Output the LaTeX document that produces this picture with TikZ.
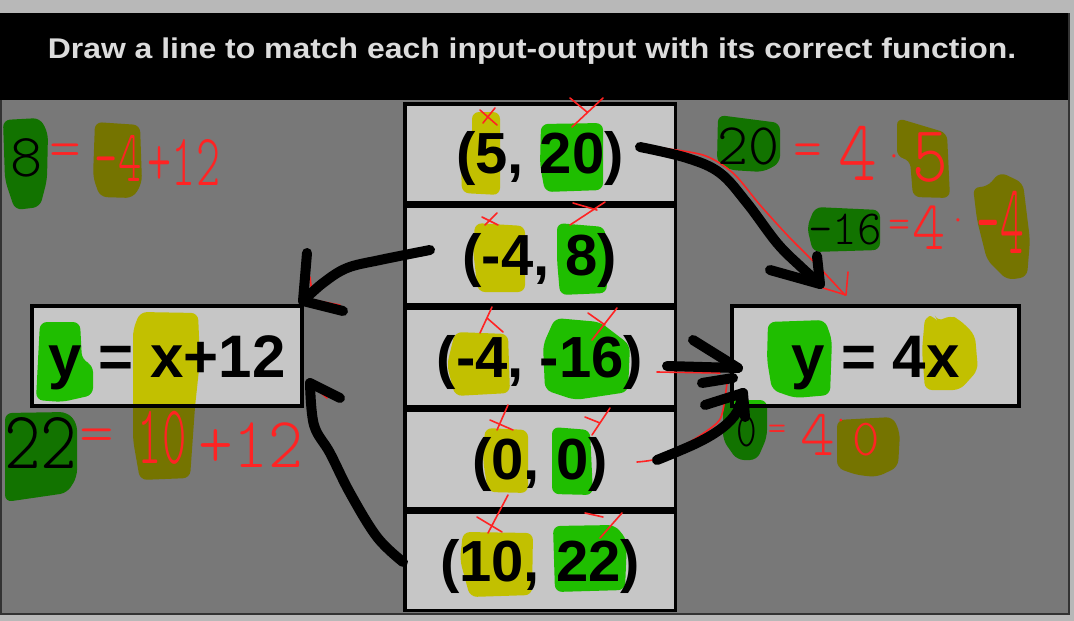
\documentclass[tikz,border=0pt]{standalone}
\usepackage{fontspec}
\setmainfont{Liberation Sans}
\usepackage{graphicx}
\definecolor{bg}{HTML}{787878}
\definecolor{boxgray}{HTML}{C6C6C6}
\definecolor{strip}{HTML}{B8B8B8}
\definecolor{edge}{HTML}{333333}
\definecolor{titletext}{HTML}{DCDCDC}
\definecolor{hlY}{RGB}{250,248,0}
\definecolor{hlG}{RGB}{40,245,0}
\definecolor{pen}{RGB}{255,35,35}
\newcommand{\hfs}[1]{\ttfamily\fontseries{l}\fontsize{#1}{#1}\selectfont}
\newcommand{\sx}[2]{\scalebox{#1}[1]{#2}}
\tikzset{
  pairbox/.style={draw=black, line width=3.5pt, fill=boxgray, minimum width=270.5pt,
    minimum height=98.5pt, inner sep=0pt, font=\bfseries\fontsize{58}{58}\selectfont,
    text height=41.5pt, text depth=0pt},
  funcbox/.style={draw=black, line width=4pt, fill=boxgray, minimum height=100pt,
    inner sep=0pt, font=\bfseries\fontsize{60}{60}\selectfont, text height=43pt, text depth=0pt},
  hl/.style={rounded corners=7pt},
  stroke/.style={draw=black, line width=10pt, line cap=round, line join=round},
  penline/.style={draw=pen, line width=1.6pt, line cap=round, line join=round},
  hand/.style={inner sep=0pt, text=pen},
  ink/.style={inner sep=0pt, text=black},
}
\begin{document}
\begin{tikzpicture}[x=1pt,y=-1pt]
\useasboundingbox (0,0) rectangle (1074,621);
% frame
\fill[bg] (0,0) rectangle (1074,621);
\fill[strip] (0,0) rectangle (1074,13);
\fill[black] (0,13) rectangle (1069,100);
\fill[edge] (1068,13) rectangle (1070,615);
\fill[strip] (1070,0) rectangle (1074,621);
\fill[edge] (0,613) rectangle (1070,615);
\fill[strip] (0,615) rectangle (1074,621);
\fill[edge] (0,100) rectangle (1.5,613);
\node[font=\bfseries\fontsize{28.5}{28.5}\selectfont, text=titletext, inner sep=0pt, anchor=base] (title) at (532,58)
  {\sx{1.12}{Draw a line to match each input-output with its correct function.}};

% input-output boxes
\node[pairbox] (p1) at (540,153) {(5, 20)};
\node[pairbox] (p2) at (540,255) {(-4, 8)};
\node[pairbox] (p3) at (540,357) {(-4, -16)};
\node[pairbox] (p4) at (540,459) {(0, 0)};
\node[pairbox] (p5) at (540,561) {(10, 22)};
% function boxes
\node[funcbox, minimum width=270pt] (f1) at (167,356) {y = x+12};
\node[funcbox, minimum width=287pt] (f2) at (875.5,356) {y = 4x};

% highlighter blobs (multiply)
\begin{scope}[blend mode=multiply]
  % inside pair boxes
  \fill[hlY,hl] (472,112) -- (500,112) -- (500,195) -- (462,193) -- (460,140) -- (472,137) -- cycle;
  \fill[hlG,hl] (541,124) -- (603,123) -- (603,190) -- (545,192) -- (540,165) -- cycle;
  \fill[hlY,hl] (475,223) -- (525,226) -- (525,292) -- (478,292) -- (473,250) -- cycle;
  \fill[hlG,hl] (557,223) -- (605,227) -- (607,293) -- (560,295) -- (557,260) -- cycle;
  \fill[hlY,hl] (455,332) -- (508,334) -- (510,393) -- (455,396) -- (447,365) -- cycle;
  \fill[hlG,hl] (555,318) -- (600,322) -- (630,345) -- (628,392) -- (575,400) -- (545,390) -- (543,345) -- cycle;
  \fill[hlY,hl] (485,428) -- (528,430) -- (528,493) -- (488,492) -- (483,460) -- cycle;
  \fill[hlG,hl] (552,427) -- (590,430) -- (593,495) -- (552,494) -- cycle;
  \fill[hlY,hl] (463,532) -- (533,533) -- (532,595) -- (470,597) -- (460,560) -- cycle;
  \fill[hlG,hl] (553,526) -- (615,525) -- (627,540) -- (625,590) -- (555,592) -- cycle;
  % inside function boxes
  \fill[hlG,hl] (40,322) -- (80,322) -- (82,360) -- (93,365) -- (93,395) -- (62,402) -- (36,400) -- (38,360) -- cycle;
  \fill[hlY,hl] (140,312) -- (198,313) -- (200,360) -- (195,407) -- (190,478) -- (140,480) -- (133,440) -- (133,330) -- cycle;
  \fill[hlG,hl] (768,322) -- (825,320) -- (832,340) -- (830,395) -- (795,398) -- (772,390) -- (767,360) -- cycle;
  \fill[hlY,hl] (925,316) -- (935,316) -- (938,322) -- (950,315) -- (960,320) -- (975,335) -- (978,370) -- (960,390) -- (925,390) -- (922,350) -- cycle;
  % outside annotations
  \fill[hlG,hl] (3,120) -- (40,118) -- (48,133) -- (47,180) -- (40,207) -- (15,210) -- (5,180) -- cycle;
  \fill[hlY,hl] (95,122) -- (140,125) -- (142,183) -- (133,198) -- (100,197) -- (93,177) -- cycle;
  \fill[hlG,hl] (718,115) -- (780,123) -- (780,163) -- (763,172) -- (730,170) -- (717,163) -- cycle;
  \fill[hlY,hl] (897,118) -- (947,133) -- (950,198) -- (913,197) -- (910,160) -- (897,157) -- cycle;
  \fill[hlG,hl] (815,207) -- (880,210) -- (880,250) -- (813,252) -- (807,227) -- cycle;
  \fill[hlY,hl] (1000,172) -- (1023,183) -- (1030,240) -- (1027,277) -- (1007,280) -- (987,260) -- (977,220) -- (973,187) -- (987,187) -- cycle;
  \fill[hlG,hl] (5,413) -- (67,412) -- (77,423) -- (77,477) -- (67,493) -- (5,502) -- cycle;
  \fill[hlG,hl] (723,400) -- (767,400) -- (767,437) -- (757,460) -- (737,460) -- (723,440) -- cycle;
  \fill[hlY,hl] (837,420) -- (893,417) -- (900,433) -- (898,467) -- (877,477) -- (857,475) -- (837,468) -- cycle;
\end{scope}

% connector end points
\coordinate (a1s) at (640,147);  \coordinate (a1e) at (820,284);
\coordinate (a2s) at (430,250);  \coordinate (a2e) at (303,301);
\coordinate (a3s) at (403,562);  \coordinate (a3e) at (310,383);
\coordinate (a4s) at (667,366);  \coordinate (a4e) at (738,368);
\coordinate (a5s) at (657,460);  \coordinate (a5e) at (743,393);

% red pen traces
\draw[penline] plot[smooth] coordinates {(653,147) (703,155) (733,173) (760,205) (790,238) (817,265) (845,295)};
\draw[penline] (823,288) -- (846,295) -- (848,272);
\draw[penline] (657,372) -- (720,373);
\draw[penline] plot[smooth] coordinates {(637,462) (660,458) (693,440) (717,423) (723,410) (727,383)};
\draw[penline] (310,277) -- (312,293);
\draw[penline] (313,300) -- (340,305);
\draw[penline] (320,392) -- (327,398);
% red check marks over the numbers
\draw[penline] (480,110) -- (497,125) (483,123) -- (495,108);
\draw[penline] (572,127) -- (603,98) (570,98) -- (587,112);
\draw[penline] (482,217) -- (498,225) (485,225) -- (497,213);
\draw[penline] (570,225) -- (605,202) (573,203) -- (597,210);
\draw[penline] (480,333) -- (492,307) (487,318) -- (503,332);
\draw[penline] (592,340) -- (617,308) (588,313) -- (605,325);
\draw[penline] (497,430) -- (508,405) (490,420) -- (513,430);
\draw[penline] (592,435) -- (610,408) (585,417) -- (600,423);
\draw[penline] (488,533) -- (508,495) (477,517) -- (502,532);
\draw[penline] (600,538) -- (622,513) (585,513) -- (603,517);

% black marker arrows
\draw[stroke] plot[smooth, tension=0.6] coordinates {(a1s) (687,158) (720,173) (747,203) (777,243) (800,266) (a1e)};
\draw[stroke] (770,270) -- (a1e) -- (817,256);
\draw[stroke] plot[smooth, tension=0.6] coordinates {(a2s) (380,260) (347,268) (323,283) (a2e)};
\draw[stroke] (307,253) -- (a2e) -- (343,311);
\draw[stroke] plot[smooth, tension=0.6] coordinates {(a3s) (377,537) (350,493) (330,453) (314,425) (a3e)};
\draw[stroke] (a3e) -- (340,398);
\draw[stroke] (a4s) -- (a4e);
\draw[stroke] (693,340) -- (a4e);
\draw[stroke] (702,383) -- (733,378);
\draw[stroke] plot[smooth, tension=0.6] coordinates {(a5s) (697,443) (722,428) (737,412) (a5e)};
\draw[stroke] (705,405) -- (a5e) -- (745,417);

% handwritten working
\node[ink]  (hw1)  at (27,158)  {\hfs{61}8};
\node[hand] (hw2)  at (65,155)  {\hfs{55}\sx{1.1}{=}};
\node[hand] (hw3)  at (118,158) {\hfs{74}\sx{0.6}{-4}};
\node[hand] (hw4)  at (184,162) {\hfs{74}\sx{0.62}{+12}};

\node[ink]  (hw5)  at (748,146) {\hfs{59}20};
\node[hand] (hw6)  at (808,155) {\hfs{55}=};
\node[hand] (hw7)  at (858,153) {\hfs{87}\sx{0.85}{4}};
\node[hand] (hw8)  at (894,160) {\hfs{30}·};
\node[hand] (hw9)  at (930,157) {\hfs{80}\sx{0.85}{5}};

\node[ink]  (hw10) at (845,230) {\hfs{49}\sx{0.95}{-16}};
\node[hand] (hw11) at (900,229) {\hfs{42}=};
\node[hand] (hw12) at (929,228) {\hfs{70}\sx{0.9}{4}};
\node[hand] (hw13) at (958,224) {\hfs{30}·};
\node[hand] (hw14) at (1000,222) {\hfs{100}\sx{0.45}{-4}};

\node[ink]  (hw15) at (41,443)  {\hfs{82}\sx{0.85}{22}};
\node[hand] (hw16) at (97,440)  {\hfs{55}\sx{1.2}{=}};
\node[hand] (hw17) at (162,438) {\hfs{84}\sx{0.55}{10}};
\node[hand] (hw18) at (251,445) {\hfs{72}\sx{0.92}{+12}};

\node[ink]  (hw19) at (747,432) {\hfs{49}\sx{0.8}{0}};
\node[hand] (hw20) at (777,432) {\hfs{35}=};
\node[hand] (hw21) at (818,435) {\hfs{66}4};
\node[hand] (hw22) at (841,424) {\hfs{26}·};
\node[hand] (hw23) at (866,440) {\hfs{52}0};
\end{tikzpicture}
\end{document}
